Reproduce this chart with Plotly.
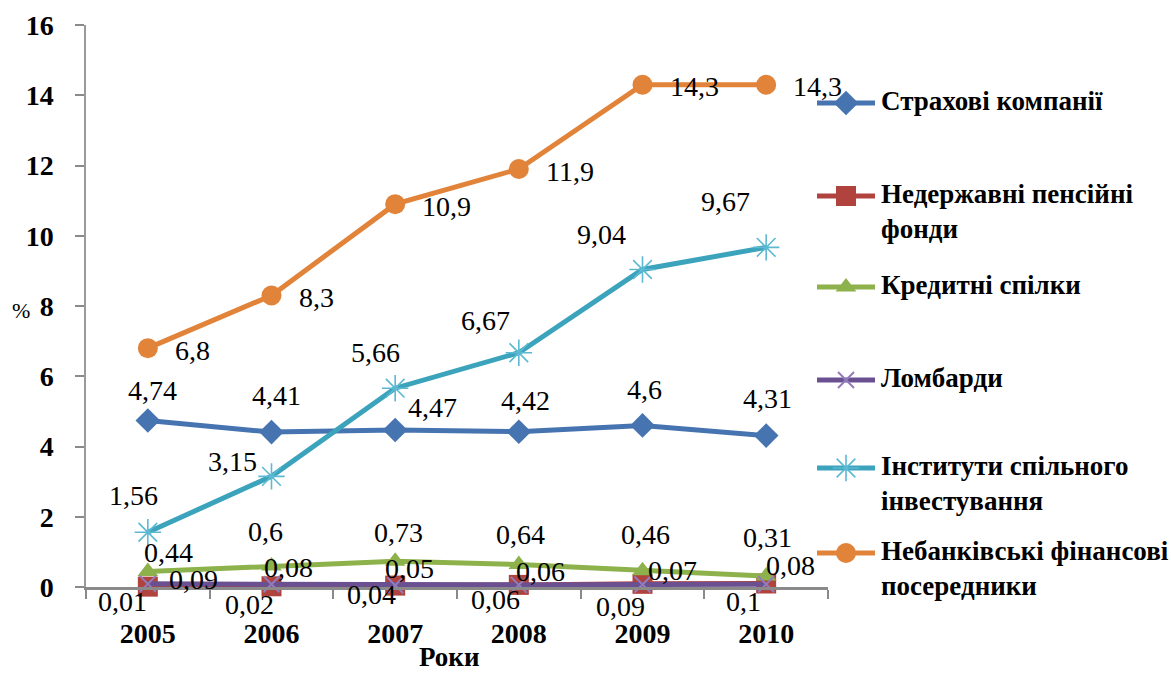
import plotly.graph_objects as go

# ---- data -------------------------------------------------------------
years = ["2005", "2006", "2007", "2008", "2009", "2010"]

insurance = [4.74, 4.41, 4.47, 4.42, 4.6, 4.31]     # Страхові компанії
pension = [0.01, 0.02, 0.04, 0.06, 0.09, 0.1]       # Недержавні пенсійні фонди
credit = [0.44, 0.6, 0.73, 0.64, 0.46, 0.31]        # Кредитні спілки
pawnshops = [0.09, 0.08, 0.05, 0.06, 0.07, 0.08]    # Ломбарди
investment = [1.56, 3.15, 5.66, 6.67, 9.04, 9.67]   # Інститути спільного інвестування
nonbank = [6.8, 8.3, 10.9, 11.9, 14.3, 14.3]        # Небанківські фінансові посередники

names = [
    "Страхові компанії",
    "Недержавні пенсійні<br>фонди",
    "Кредитні спілки",
    "Ломбарди",
    "Інститути спільного<br>інвестування",
    "Небанківські фінансові<br>посередники",
]

y_ticks = [0, 2, 4, 6, 8, 10, 12, 14, 16]

# ---- styling ----------------------------------------------------------
W, H = 1171, 673
PL, PR, PT, PB = 86, 828, 25, 587          # plot area in pixels
FONT = "'Liberation Serif', 'Times New Roman', Tinos, 'DejaVu Serif', 'Noto Serif', serif"

styles = [
    dict(color="#4674B0", symbol="diamond", size=19, mcolor="#4674B0", mline=0),
    dict(color="#B0433E", symbol="square", size=20, mcolor="#B0433E", mline=0),
    dict(color="#8DB14B", symbol="triangle-up", size=18, mcolor="#8DB14B", mline=0),
    dict(color="#6A5091", symbol="x-thin-open", size=16, mcolor="#927CBB", mline=2),
    dict(color="#3BA3BB", symbol="asterisk-open", size=22, mcolor="#5CB9D2", mline=1.6),
    dict(color="#E2833A", symbol="circle", size=20, mcolor="#E2833A", mline=0),
]

series = [insurance, pension, credit, pawnshops, investment, nonbank]

# label offsets (dx, dy in px, screen direction) per series, with per-point tweaks
label_offsets = [
    [(5, -30), (5, -37), (37, -22), (7, -31), (2, -36), (1, -37)],
    [(-25, 15), (-22, 18), (-24, 9), (-23, 15), (-22, 23), (-23, 18)],
    [(21, -19), (-6, -34), (3, -29), (2, -30), (3, -36), (1, -39)],
    [(46, -4), (17, -17), (14, -17), (22, -13), (30, -14), (24, -19)],
    [(-14, -37), (-39, -15), (-20, -36), (-33, -32), (-41, -35), (-41, -46)],
    [None] * 6,   # right-hand labels, anchored by their left edge
]

fig = go.Figure()

for vals, st in zip(series, styles):
    fig.add_trace(go.Scatter(
        x=years, y=vals, mode="lines+markers",
        line=dict(color=st["color"], width=5),
        marker=dict(symbol=st["symbol"], size=st["size"], color=st["mcolor"],
                    line=dict(width=st["mline"], color=st["mcolor"])),
        cliponaxis=False, showlegend=False, hoverinfo="skip",
        xaxis="x", yaxis="y",
    ))

# ---- legend drawn on a pixel-coordinate overlay ------------------------
legend_rows = [103, 196, 287, 380, 468, 553]
for name, st, ry in zip(names, styles, legend_rows):
    fig.add_trace(go.Scatter(
        x=[817, 875], y=[ry, ry], mode="lines",
        line=dict(color=st["color"], width=5),
        showlegend=False, hoverinfo="skip", xaxis="x2", yaxis="y2",
    ))
    fig.add_trace(go.Scatter(
        x=[846], y=[ry], mode="markers",
        marker=dict(symbol=st["symbol"], size=st["size"], color=st["mcolor"],
                    line=dict(width=st["mline"], color=st["mcolor"])),
        showlegend=False, hoverinfo="skip", xaxis="x2", yaxis="y2",
    ))

annotations = []
for name, ry in zip(names, legend_rows):
    annotations.append(dict(
        x=879, y=ry - 19, xref="x2", yref="y2", text=f"<b>{name}</b>",
        xanchor="left", yanchor="top", align="left", showarrow=False,
        font=dict(family=FONT, size=27, color="#000000"),
    ))


def fmt(v):
    return f"{v:g}".replace(".", ",")


# ---- data labels (category axis positions are the year indices) -------
for vals, offs in zip(series, label_offsets):
    for i, v in enumerate(vals):
        off = offs[i]
        if off is None:
            annotations.append(dict(
                x=i, y=v, xref="x", yref="y", text=fmt(v),
                xanchor="left", yanchor="middle", xshift=25, yshift=-2,
                showarrow=False, font=dict(family=FONT, size=28, color="#000000"),
            ))
        else:
            dx, dy = off
            annotations.append(dict(
                x=i, y=v, xref="x", yref="y", text=fmt(v),
                xanchor="center", yanchor="middle", xshift=dx, yshift=-dy,
                showarrow=False, font=dict(family=FONT, size=28, color="#000000"),
            ))

# axis titles
annotations.append(dict(
    x=(PL + PR) / 2 - 8, y=673, xref="x2", yref="y2", text="<b>Роки</b>",
    xanchor="center", yanchor="bottom", showarrow=False, borderpad=0,
    font=dict(family=FONT, size=27, color="#000000"),
))
annotations.append(dict(
    x=21, y=310, xref="x2", yref="y2", text="%",
    xanchor="center", yanchor="middle", showarrow=False,
    font=dict(family=FONT, size=22, color="#000000"),
))

fig.update_layout(
    template="none",
    width=W, height=H,
    margin=dict(l=0, r=0, t=0, b=0, pad=0, autoexpand=False),
    paper_bgcolor="white",
    plot_bgcolor="rgba(0,0,0,0)",
    font=dict(family=FONT, color="#000000"),
    showlegend=False,
    xaxis=dict(
        type="category", domain=[PL / W, PR / W], range=[-0.5, 5.5],
        tickson="boundaries", ticks="outside", ticklen=9, tickcolor="#8A8A8A",
        tickwidth=2, showline=True, linecolor="#8A8A8A", linewidth=2.5,
        showgrid=False, zeroline=False, anchor="y", automargin=False,
        tickfont=dict(family=FONT, size=28, color="#000000", weight="bold"),
        ticklabelstandoff=20,
    ),
    yaxis=dict(
        domain=[(H - PB) / H, (H - PT) / H], range=[0, 16], tickvals=y_ticks,
        ticks="outside", ticklen=9, tickcolor="#8A8A8A", tickwidth=1.5,
        showline=True, linecolor="#9A9A9A", linewidth=1.5,
        showgrid=False, zeroline=False, anchor="x", automargin=False,
        tickfont=dict(family=FONT, size=28, color="#000000", weight="bold"),
        ticklabelstandoff=16,
    ),
    xaxis2=dict(domain=[0, 1], range=[0, W], visible=False, anchor="y2",
                fixedrange=True, automargin=False),
    yaxis2=dict(domain=[0, 1], range=[H, 0], visible=False, anchor="x2",
                fixedrange=True, automargin=False),
    annotations=annotations,
)

fig.write_html("out.html")
